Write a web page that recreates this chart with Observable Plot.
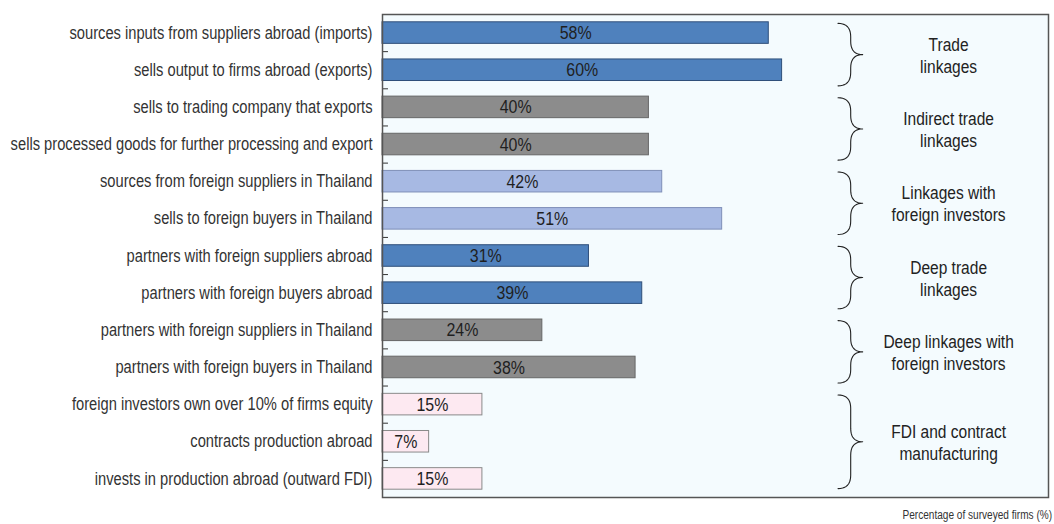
<!DOCTYPE html>
<html>
<head>
<meta charset="utf-8">
<script src="https://cdn.jsdelivr.net/npm/d3@7"></script>
<script src="https://cdn.jsdelivr.net/npm/@observablehq/plot@0.6"></script>
<style>
  html, body { margin: 0; padding: 0; background: #ffffff; }
  #chart { width: 1054px; }
  .caption { width: 1054px; box-sizing: border-box; text-align: right; padding-right: 2px;
    font-family: "Liberation Sans", Arial, sans-serif;
    font-size: 12px; color: #333; margin-top: 8px; }
  .caption span { display: inline-block; transform: scaleX(0.84); transform-origin: right center; }
</style>
</head>
<body>
<div id="chart"></div>
<div class="caption"><span>Percentage of surveyed firms (%)</span></div>
<script>
const categories = [
  "sources inputs from suppliers abroad (imports)",
  "sells output to firms abroad (exports)",
  "sells to trading company that exports",
  "sells processed goods for further processing and export",
  "sources from foreign suppliers in Thailand",
  "sells to foreign buyers in Thailand",
  "partners with foreign suppliers abroad",
  "partners with foreign buyers abroad",
  "partners with foreign suppliers in Thailand",
  "partners with foreign buyers in Thailand",
  "foreign investors own over 10% of firms equity",
  "contracts production abroad",
  "invests in production abroad (outward FDI)"
];
const values = [58, 60, 40, 40, 42, 51, 31, 39, 24, 38, 15, 7, 15];

const groupLabels = [
  "Trade\nlinkages",
  "Indirect trade\nlinkages",
  "Linkages with\nforeign investors",
  "Deep trade\nlinkages",
  "Deep linkages with\nforeign investors",
  "FDI and contract\nmanufacturing"
];
const groupStart = [0, 2, 4, 6, 8, 10];
const groupEnd   = [1, 3, 5, 7, 9, 12];
const groupFill   = ["#4f81bd", "#8c8c8c", "#a7b9e3", "#4f81bd", "#8c8c8c", "#fde9f1"];
const groupStroke = ["#2f4f7a", "#666666", "#7f8fb8", "#2f4f7a", "#666666", "#8a8a8a"];

const FONT = '"Liberation Sans", Arial, sans-serif';
const SQUEEZE = 0.84;

const rows = categories.map((c, i) => {
  const g = groupStart.findIndex((s, k) => i >= s && i <= groupEnd[k]);
  return {i, category: c, value: values[i], group: g};
});

const groups = groupLabels.map((label, k) => {
  const n = groupEnd[k] - groupStart[k] + 1;
  const mid = (groupStart[k] + groupEnd[k]) / 2 + (n === 2 ? 0.08 : 0);
  const half = n * 0.42;
  return {k, label, mid, top: mid - half, bottom: mid + half};
});

function quad(p0, p1, p2, steps) {
  const pts = [];
  for (let s = 0; s <= steps; s++) {
    const t = s / steps;
    const a = (1 - t) * (1 - t), b = 2 * (1 - t) * t, c = t * t;
    pts.push([a * p0[0] + b * p1[0] + c * p2[0], a * p0[1] + b * p1[1] + c * p2[1]]);
  }
  return pts;
}
const braceX0 = 68.4, braceXm = 70.3, braceXt = 72.1, r = 0.36;
const bracePts = [];
for (const g of groups) {
  const segs = [
    ...quad([braceX0, g.top], [braceXm, g.top], [braceXm, g.top + r], 10),
    ...quad([braceXm, g.mid - r], [braceXm, g.mid], [braceXt, g.mid], 10),
    ...quad([braceXt, g.mid], [braceXm, g.mid], [braceXm, g.mid + r], 10),
    ...quad([braceXm, g.bottom - r], [braceXm, g.bottom], [braceX0, g.bottom], 10)
  ];
  segs.forEach(([x, y]) => bracePts.push({k: g.k, x, y}));
}

const boundaries = d3.range(0.5, categories.length - 0.5, 1);

const chart = Plot.plot({
  width: 1054,
  height: 500,
  marginTop: 14,
  marginBottom: 3,
  marginLeft: 382,
  marginRight: 6,
  style: {fontFamily: FONT, fontSize: "15px", color: "#333", background: "#ffffff"},
  x: {domain: [0, 100], axis: null},
  y: {domain: [-0.5, categories.length - 0.5], reverse: true, axis: null},
  marks: [
    Plot.frame({fill: "#f4fbfe", stroke: "none"}),
    Plot.rectX(rows, {
      x1: 0, x2: "value",
      y1: d => d.i - 0.29, y2: d => d.i + 0.29,
      fill: d => groupFill[d.group], stroke: d => groupStroke[d.group], strokeWidth: 1
    }),
    Plot.text(rows, {
      x: d => d.value / 2, y: "i", text: d => d.value + "%",
      fontSize: 19, fill: "#1f1f1f", fontFamily: FONT
    }),
    Plot.ruleY(boundaries, {x1: 0, x2: 0.9, stroke: "#333", strokeWidth: 1}),
    Plot.axisY(d3.range(categories.length), {
      tickFormat: i => categories[i], tickSize: 0, tickPadding: 10,
      fontSize: 17.5, fill: "#333", fontFamily: FONT
    }),
    Plot.line(bracePts, {x: "x", y: "y", z: "k", stroke: "#222", strokeWidth: 1.1, curve: "linear"}),
    Plot.text(groups, {
      x: 85, y: "mid", text: "label", lineHeight: 1.2,
      fontSize: 18.5, fill: "#222", fontFamily: FONT
    }),
    Plot.frame({stroke: "#555", strokeWidth: 1.5})
  ]
});
document.getElementById("chart").appendChild(chart);

// condense the text horizontally (narrow typeface look)
chart.querySelectorAll("text").forEach(t => {
  const tr = t.getAttribute("transform");
  if (tr) {
    t.setAttribute("transform", tr + ` scale(${SQUEEZE},1)`);
  } else {
    const x = +(t.getAttribute("x") || 0), y = +(t.getAttribute("y") || 0);
    t.removeAttribute("x"); t.removeAttribute("y");
    t.setAttribute("transform", `translate(${x},${y}) scale(${SQUEEZE},1)`);
  }
});
</script>
</body>
</html>
